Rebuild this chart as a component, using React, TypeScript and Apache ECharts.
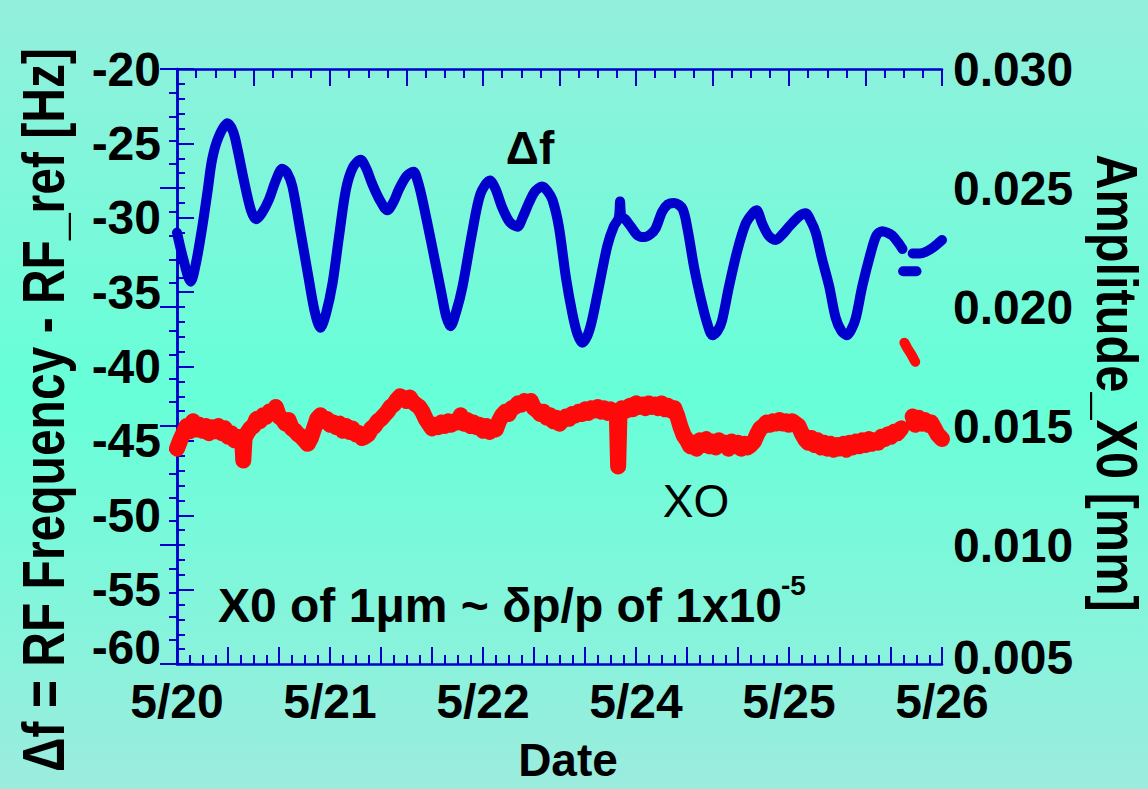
import React, { useEffect, useRef } from "react";
import * as echarts from "echarts";

// x values are hours since 5/20 00:00
const dateLabels = ["5/20", "5/21", "5/22", "5/24", "5/25", "5/26"];
const leftTicks = [-60, -55, -50, -45, -40, -35, -30, -25, -20];
const rightTicks = [0.005, 0.01, 0.015, 0.02, 0.025, 0.03];

const deltaF: (number | null)[][] = [
  [0, -31.0], [1, -32.8], [2.15, -34.3], [3, -33.0], [3.97, -30.6], [4.8, -28.2], [5.5, -26.1], [6.5, -24.6],
  [7.9, -23.65], [8.8, -24.2], [9.5, -25.4], [10.5, -27.5], [11.6, -29.5], [12.4, -30.1], [13.3, -29.7],
  [14.4, -28.8], [15.5, -27.5], [16.5, -26.7], [17.3, -27.0], [18.1, -27.9], [19.4, -31.0], [20.7, -34.2],
  [21.6, -36.3], [22.5, -37.4], [23.4, -36.4], [24.4, -34.4], [25.4, -31.3], [26.5, -28.1], [27.6, -26.6],
  [28.8, -26.1], [29.7, -26.7], [30.6, -27.7], [31.8, -28.8], [33.0, -29.5], [34.0, -28.9], [34.8, -28.1],
  [36.0, -27.2], [37.1, -26.9], [37.8, -27.6], [38.5, -28.8], [40.0, -31.9], [41.4, -34.9], [42.2, -36.6],
  [42.9, -37.3], [43.8, -36.3], [44.8, -34.6], [46.3, -31.0], [47.6, -28.4], [49.1, -27.5], [50.0, -28.1],
  [51.0, -29.3], [52.2, -30.3], [53.4, -30.6], [54.3, -29.9], [55.2, -29.0], [56.2, -28.2], [57.3, -27.9],
  [58.1, -28.2], [58.9, -28.8], [59.9, -30.6], [61.0, -34.0], [62.0, -36.4], [62.8, -37.8], [63.6, -38.4],
  [64.4, -37.9], [65.1, -36.9], [66.2, -34.6], [67.5, -31.9], [68.5, -30.6], [69.3, -30.0], [69.5, -28.9],
  [69.7, -29.9], [70.3, -30.1], [71.2, -30.6], [72.3, -31.2], [73.3, -31.3], [74.3, -31.1], [75.1, -30.7],
  [76.1, -29.6], [77.0, -29.1], [78.0, -29.0], [79.3, -29.4], [80.1, -30.8], [81.1, -33.3], [82.2, -35.5],
  [83.1, -37.0], [84.0, -37.9], [84.8, -37.6], [85.5, -36.9], [86.6, -34.6], [87.9, -32.2], [89.2, -30.4],
  [90.1, -29.8], [90.9, -29.5], [91.8, -30.4], [92.8, -31.2], [93.9, -31.5], [95.0, -31.1], [96.0, -30.6],
  [97.6, -29.9], [98.6, -29.7], [99.4, -30.2], [100.2, -31.0], [101.2, -32.8], [102.3, -34.6], [103.3, -36.7],
  [104.2, -37.6], [105.1, -37.9], [105.8, -37.5], [106.5, -36.7], [107.5, -34.6], [108.8, -32.4], [109.7, -31.2],
  [110.6, -30.9], [111.4, -31.0], [112.2, -31.2], [113.0, -31.6], [113.8, -32.1], [114.5, null],
  [115.4, -32.4], [116.5, -32.4], [117.4, -32.3], [118.6, -32.0], [120, -31.5],
];
const deltaFOutlier = [[113.9, -33.6], [116.0, -33.6]];

const xo: (number | null)[][] = [
  [0, 0.01405], [0.5, 0.0144], [1, 0.0147], [1.5, 0.015], [2, 0.01478], [2.5, 0.0152], [3, 0.01485], [3.5, 0.01505],
  [4, 0.0148], [4.5, 0.015], [5, 0.0147], [5.5, 0.01495], [6, 0.01478], [6.5, 0.015], [7, 0.0147], [7.5, 0.0149],
  [8, 0.01455], [8.5, 0.0147], [9, 0.0144], [9.5, 0.01455], [10, 0.0144], [10.2, 0.01452], [10.4, 0.01355],
  [10.6, 0.0145], [11, 0.0147], [11.5, 0.0149], [12, 0.015], [12.5, 0.0153], [13, 0.0152], [13.5, 0.01545],
  [14, 0.0154], [14.5, 0.0156], [15, 0.01555], [15.5, 0.0158], [16, 0.0154], [16.5, 0.0153], [17, 0.0151],
  [17.5, 0.01525], [18, 0.0149], [18.5, 0.0148], [19, 0.01465], [19.5, 0.01455], [20, 0.0144], [20.5, 0.01425],
  [21, 0.0145], [21.5, 0.0149], [22, 0.0153], [22.5, 0.01545], [23, 0.0152], [23.5, 0.0153], [24, 0.01505],
  [24.5, 0.01515], [25, 0.01495], [25.5, 0.0151], [26, 0.0148], [26.5, 0.015], [27, 0.01475], [27.5, 0.0149],
  [28, 0.01465], [28.5, 0.0147], [29, 0.0145], [29.5, 0.01455], [30, 0.01465], [30.5, 0.0149], [31, 0.015],
  [31.5, 0.0152], [32, 0.0153], [32.5, 0.01545], [33, 0.0156], [33.5, 0.0158], [34, 0.0159], [34.5, 0.0161],
  [35, 0.01625], [35.5, 0.01615], [36, 0.01605], [36.5, 0.0162], [37, 0.016], [37.5, 0.0159], [38, 0.0158],
  [38.5, 0.0156], [39, 0.0153], [39.5, 0.0151], [40, 0.0149], [40.5, 0.01505], [41, 0.01495], [41.5, 0.01515],
  [42, 0.015], [42.5, 0.0152], [43, 0.01505], [43.5, 0.0152], [44, 0.01515], [44.5, 0.01545], [45, 0.0151],
  [45.5, 0.01525], [46, 0.015], [46.5, 0.01515], [47, 0.01495], [47.5, 0.01505], [48, 0.0148], [48.5, 0.015],
  [49, 0.01475], [49.5, 0.01495], [50, 0.01485], [50.5, 0.0152], [51, 0.01545], [51.5, 0.0156], [52, 0.0155],
  [52.5, 0.01575], [53, 0.0158], [53.5, 0.01595], [54, 0.0159], [54.5, 0.01605], [55, 0.01595], [55.5, 0.01605],
  [56, 0.01575], [56.5, 0.01565], [57, 0.0155], [57.5, 0.0156], [58, 0.01535], [58.5, 0.01545], [59, 0.0152],
  [59.5, 0.01535], [60, 0.0151], [60.5, 0.01525], [61, 0.0154], [61.5, 0.0153], [62, 0.0155], [62.5, 0.01545],
  [63, 0.0156], [63.5, 0.0155], [64, 0.0157], [64.5, 0.01555], [65, 0.01575], [65.5, 0.01565], [66, 0.0158],
  [66.5, 0.0156], [67, 0.01575], [67.5, 0.01555], [68, 0.0157], [68.5, 0.0156], [69, 0.0154], [69.2, 0.0133],
  [69.4, 0.0154], [69.8, 0.01575], [70.5, 0.01565], [71, 0.01585], [71.5, 0.0157], [72, 0.01595], [72.5, 0.0158],
  [73, 0.0159], [73.5, 0.01575], [74, 0.01595], [74.5, 0.0158], [75, 0.0159], [75.5, 0.01575], [76, 0.01595],
  [76.5, 0.0157], [77, 0.01585], [77.5, 0.01565], [78, 0.01575], [78.5, 0.0154], [79, 0.01495], [79.5, 0.0146],
  [80, 0.0144], [80.5, 0.01415], [81, 0.0143], [81.5, 0.01405], [82, 0.0144], [82.5, 0.0142], [83, 0.01445],
  [83.5, 0.01415], [84, 0.01435], [84.5, 0.0141], [85, 0.0144], [85.5, 0.0142], [86, 0.0143], [86.5, 0.01405],
  [87, 0.01435], [87.5, 0.01415], [88, 0.0143], [88.5, 0.01405], [89, 0.01425], [89.5, 0.0141], [90, 0.0142],
  [90.5, 0.01435], [91, 0.01465], [91.5, 0.0149], [92, 0.015], [92.5, 0.01515], [93, 0.01505], [93.5, 0.0152],
  [94, 0.0151], [94.5, 0.01525], [95, 0.0151], [95.5, 0.0152], [96, 0.01505], [96.5, 0.0152], [97, 0.0151],
  [97.5, 0.015], [98, 0.0147], [98.5, 0.01445], [99, 0.0143], [99.5, 0.0145], [100, 0.0142], [100.5, 0.0144],
  [101, 0.0141], [101.5, 0.0143], [102, 0.01405], [102.5, 0.01425], [103, 0.014], [103.5, 0.0142], [104, 0.01405],
  [104.5, 0.01425], [105, 0.014], [105.5, 0.0143], [106, 0.0141], [106.5, 0.01435], [107, 0.01415], [107.5, 0.0144],
  [108, 0.0142], [108.5, 0.01445], [109, 0.01425], [109.5, 0.0144], [110, 0.0143], [110.5, 0.01455], [111, 0.01445],
  [111.5, 0.01465], [112, 0.01455], [112.5, 0.01475], [113, 0.0147], [113.6, 0.0149], [113.7, null],
  [115.4, 0.0154], [115.8, 0.01505], [116.3, 0.01535], [116.8, 0.0151], [117.3, 0.01525], [117.8, 0.01505],
  [118.3, 0.01515], [118.8, 0.0149], [119.3, 0.01465], [120, 0.01445],
];
const xoOutlier = [[114.1, 0.0185], [114.6, 0.01825], [115.2, 0.018], [115.8, 0.0177]];

const BLUE = "#0000cc";
const RED = "#ff0a0a";

export default function App() {
  const ref = useRef<HTMLDivElement>(null);
  useEffect(() => {
    if (!ref.current) return;
    const chart = echarts.init(ref.current, null, { renderer: "svg" });
    const axisLine = { show: true, lineStyle: { color: BLUE, width: 2.5 } };
    const tick = { show: true, inside: true, length: 17, lineStyle: { color: BLUE, width: 2 } };
    const minor = (n: number) => ({ show: true, splitNumber: n, length: 9, lineStyle: { color: BLUE, width: 2 } });
    const labelFont = { fontFamily: "Liberation Sans", fontWeight: "bold" as const, fontSize: 48, color: "#000" };
    const center = { textAlign: "center", textVerticalAlign: "middle", align: "center", verticalAlign: "middle" };
    chart.setOption({
      animation: false,
      backgroundColor: {
        type: "linear", x: 0, y: 0, x2: 0, y2: 1,
        colorStops: [
          { offset: 0, color: "#93efdc" },
          { offset: 0.5, color: "#66ffd8" },
          { offset: 1, color: "#9cecde" },
        ],
      },
      grid: { left: 177, right: 206, top: 69, bottom: 125, show: false },
      xAxis: [
        {
          type: "value", position: "bottom", min: 0, max: 120, interval: 8,
          axisLine, axisTick: tick, minorTick: minor(4), splitLine: { show: false }, minorSplitLine: { show: false },
          axisLabel: {
            ...labelFont, margin: 13, showMinLabel: true, showMaxLabel: true,
            formatter: (v: number) => (v % 24 === 0 ? dateLabels[v / 24] : ""),
          },
        },
        {
          type: "value", position: "top", min: 0, max: 120, interval: 12,
          axisLine, axisTick: tick, minorTick: minor(4), splitLine: { show: false },
          axisLabel: { show: false },
        },
      ],
      yAxis: [
        {
          type: "value", position: "left", min: leftTicks[0], max: leftTicks[leftTicks.length - 1], interval: 5,
          axisLine, axisTick: tick, minorTick: { ...minor(5), length: 8 }, splitLine: { show: false },
          axisLabel: {
            ...labelFont, margin: 16,
            formatter: (v: number) => (v === leftTicks[0] ? `{low|${v}}` : `${v}`),
            rich: { low: { ...labelFont, padding: [0, 0, 34, 0] } },
          },
        },
        {
          type: "value", position: "right", min: rightTicks[0], max: rightTicks[rightTicks.length - 1], interval: 0.005,
          axisLine, axisTick: tick, minorTick: { ...minor(5), length: 8 }, splitLine: { show: false },
          axisLabel: {
            ...labelFont, margin: 11,
            formatter: (v: number) => (Math.abs(v - rightTicks[0]) < 1e-9 ? `{low|${v.toFixed(3)}}` : v.toFixed(3)),
            rich: { low: { ...labelFont, padding: [0, 0, 14, 0] } },
          },
        },
      ],
      series: [
        {
          type: "line", name: "Δf", xAxisIndex: 0, yAxisIndex: 0, data: deltaF, showSymbol: false, smooth: 0.3,
          connectNulls: false, lineStyle: { color: BLUE, width: 10, cap: "round", join: "round" }, z: 3,
        },
        {
          type: "line", name: "Δf outlier", xAxisIndex: 0, yAxisIndex: 0, data: deltaFOutlier, showSymbol: false,
          lineStyle: { color: BLUE, width: 10, cap: "round" }, z: 3,
        },
        {
          type: "line", name: "X0", xAxisIndex: 0, yAxisIndex: 1, data: xo, showSymbol: false,
          connectNulls: false, lineStyle: { color: RED, width: 16, cap: "round", join: "round" }, z: 2,
        },
        {
          type: "line", name: "X0 outlier", xAxisIndex: 0, yAxisIndex: 1, data: xoOutlier, showSymbol: false,
          lineStyle: { color: RED, width: 10, cap: "round", join: "round" }, z: 2,
        },
      ],
      graphic: [
        {
          type: "text", x: 44, y: 410, rotation: Math.PI / 2, scaleX: 0.8,
          style: {
            text: "Δf = RF Frequency - RF_ref [Hz]", fontFamily: "Liberation Sans", fontWeight: "bold",
            fontSize: 60, fill: "#000", ...center,
          },
        },
        {
          type: "text", x: 1117, y: 383, rotation: -Math.PI / 2, scaleX: 0.84,
          style: {
            text: "Amplitude_X0 [mm]", fontFamily: "Liberation Sans", fontWeight: "bold",
            fontSize: 58, fill: "#000", ...center,
          },
        },
        {
          type: "text", x: 568, y: 760,
          style: { text: "Date", fontFamily: "Liberation Sans", fontWeight: "bold", fontSize: 46, fill: "#000", ...center },
        },
        {
          type: "text", x: 530, y: 148,
          style: { text: "Δf", fontFamily: "Liberation Sans", fontWeight: "bold", fontSize: 46, fill: "#000", ...center },
        },
        {
          type: "text", x: 696, y: 501,
          style: { text: "XO", fontFamily: "Liberation Sans", fontWeight: "normal", fontSize: 46, fill: "#000", ...center },
        },
        {
          type: "text", x: 218, y: 605,
          style: {
            text: "X0 of 1μm ~ δp/p of 1x10", fontFamily: "Liberation Sans", fontWeight: "bold", fontSize: 48, fill: "#000",
            textAlign: "left", textVerticalAlign: "middle", align: "left", verticalAlign: "middle",
          },
        },
        {
          type: "text", x: 781, y: 585,
          style: {
            text: "-5", fontFamily: "Liberation Sans", fontWeight: "bold", fontSize: 28, fill: "#000",
            textAlign: "left", textVerticalAlign: "middle", align: "left", verticalAlign: "middle",
          },
        },
      ],
    });
    return () => chart.dispose();
  }, []);
  return <div ref={ref} style={{ position: "absolute", left: 0, top: 0, width: 1148, height: 789 }} />;
}
